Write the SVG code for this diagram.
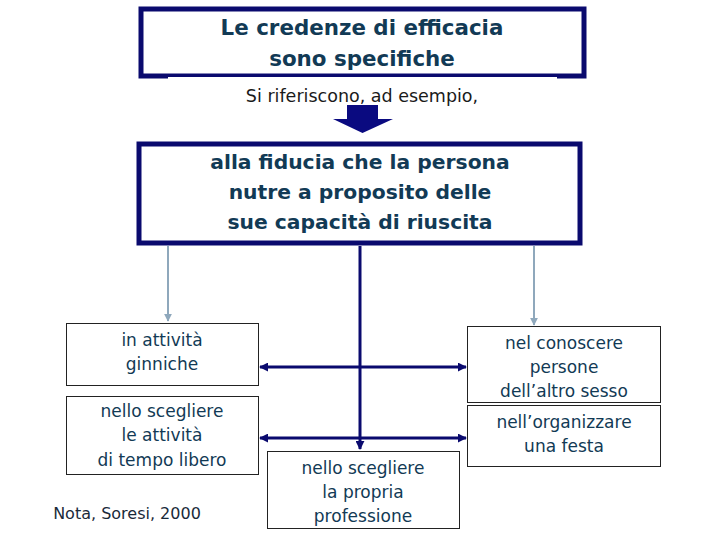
<svg xmlns="http://www.w3.org/2000/svg" width="720" height="540" viewBox="0 0 720 540">
<defs>
<style>
.t{font-family:"DejaVu Sans","Liberation Sans",sans-serif;fill:#123a55;text-anchor:middle}
.b{font-weight:bold;font-size:20.3px}
.n{font-size:17px}
.big{fill:#fff;stroke:#0a0a6e;stroke-width:5}
.box{fill:#fff;stroke:#222;stroke-width:1}
.navy{stroke:#0a0a6e;stroke-width:3;fill:none}
.light{stroke:#8fa8bc;stroke-width:2;fill:none}
</style>
<marker id="an" viewBox="0 0 10 10" refX="9" refY="5" markerWidth="3" markerHeight="3" orient="auto-start-reverse"><path d="M0,0L10,5L0,10z" fill="#0a0a6e"/></marker>
<marker id="al" viewBox="0 0 10 10" refX="9" refY="5" markerWidth="4" markerHeight="4" orient="auto"><path d="M0,0L10,5L0,10z" fill="#8fa8bc"/></marker>
</defs>
<rect width="720" height="540" fill="#fff"/>
<g id="title">
<rect class="big" x="141" y="9" width="443" height="67"/>
<text class="t b" x="362" y="35" style="font-size:21.4px">Le credenze di efficacia</text>
<text class="t b" x="362" y="66" style="font-size:21.4px">sono specifiche</text>
</g>
<g id="subtitle">
<rect x="168" y="77" width="389" height="27" fill="#fff"/>
<text class="t n" x="362" y="102" style="fill:#1a1a1a;font-size:17.5px">Si riferiscono, ad esempio,</text>
<path d="M347,105H378V119H393L362.5,133L333,119H347Z" fill="#0a0a80"/>
</g>
<g id="main">
<rect class="big" x="139" y="144" width="441" height="99"/>
<text class="t b" x="360" y="169">alla fiducia che la persona</text>
<text class="t b" x="360" y="199">nutre a proposito delle</text>
<text class="t b" x="360" y="229">sue capacità di riuscita</text>
</g>
<g id="connectors">
<line class="light" x1="168" y1="246" x2="168" y2="321" marker-end="url(#al)"/>
<line class="light" x1="534" y1="246" x2="534" y2="325" marker-end="url(#al)"/>
<line class="navy" x1="360" y1="246" x2="360" y2="449" marker-end="url(#an)"/>
<line class="navy" x1="260" y1="367" x2="466" y2="367" marker-start="url(#an)" marker-end="url(#an)"/>
<line class="navy" x1="260" y1="438" x2="466" y2="438" marker-start="url(#an)" marker-end="url(#an)"/>
</g>
<g id="ginniche">
<rect class="box" x="66.5" y="323.5" width="192" height="62"/>
<text class="t n" x="162" y="346">in attività</text>
<text class="t n" x="162" y="370">ginniche</text>
</g>
<g id="tempolibero">
<rect class="box" x="66.5" y="396.5" width="192" height="78"/>
<text class="t n" x="162" y="417">nello scegliere</text>
<text class="t n" x="162" y="441">le attività</text>
<text class="t n" x="162" y="466">di tempo libero</text>
</g>
<g id="professione">
<rect class="box" x="267.5" y="451.5" width="192" height="77"/>
<text class="t n" x="363" y="474">nello scegliere</text>
<text class="t n" x="363" y="498">la propria</text>
<text class="t n" x="363" y="522">professione</text>
</g>
<g id="sesso">
<rect class="box" x="467.5" y="326.5" width="193" height="76"/>
<text class="t n" x="564" y="349">nel conoscere</text>
<text class="t n" x="564" y="373">persone</text>
<text class="t n" x="564" y="397">dell’altro sesso</text>
</g>
<g id="festa">
<rect class="box" x="467.5" y="405.5" width="193" height="61"/>
<text class="t n" x="564" y="428">nell’organizzare</text>
<text class="t n" x="564" y="452">una festa</text>
</g>
<text class="t n" x="127" y="519" style="fill:#1a2a3a;font-size:16px">Nota, Soresi, 2000</text>
</svg>
